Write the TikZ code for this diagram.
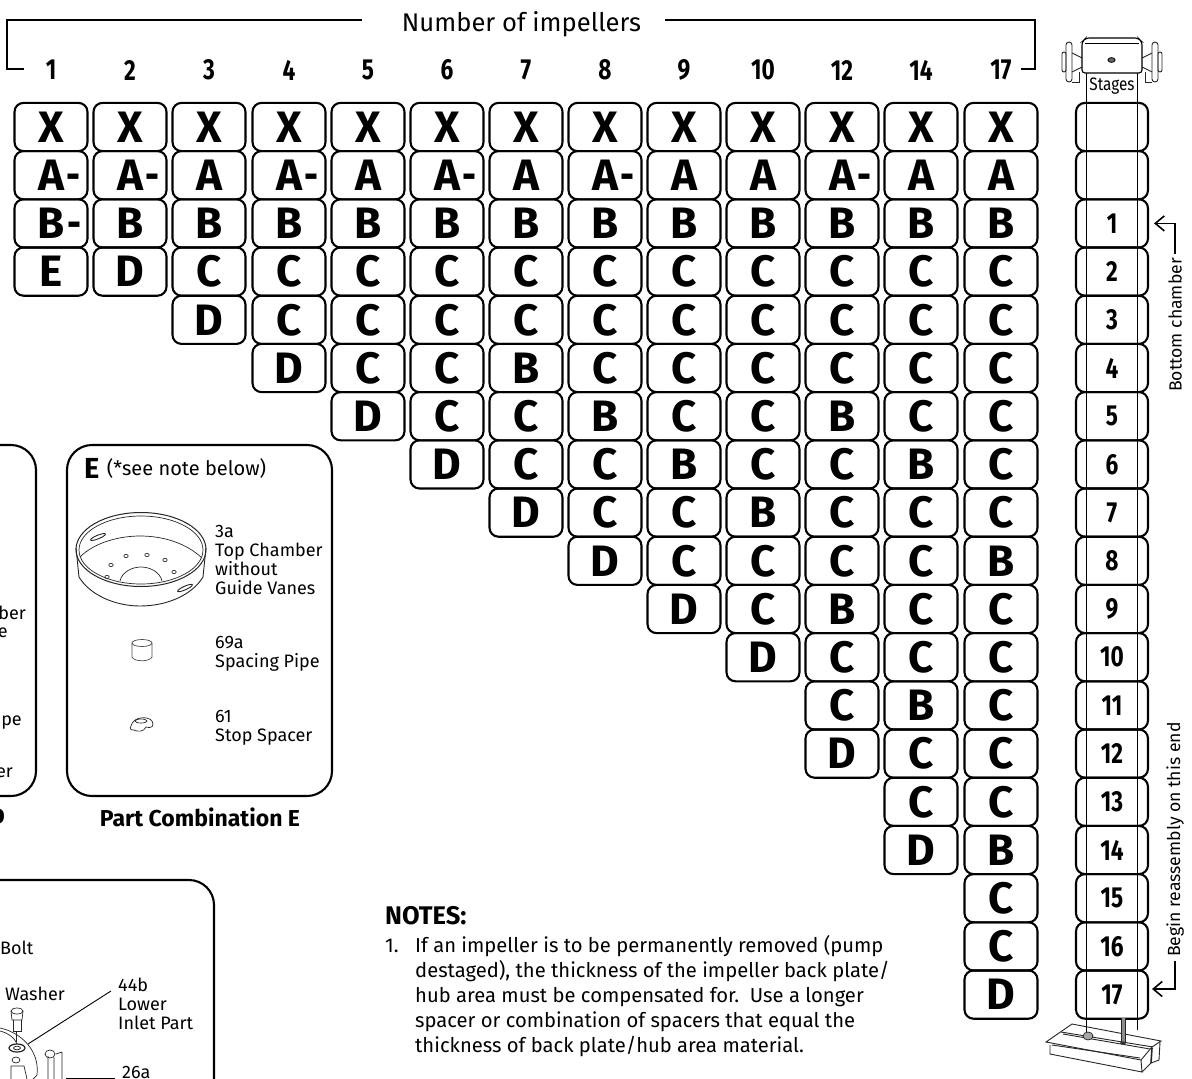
\documentclass[tikz,border=0pt]{standalone}
\usepackage{fontspec}
\setmainfont{Fira Sans}
\usetikzlibrary{arrows.meta,calc,positioning}
\newcommand{\nrw}[1]{\scalebox{.78}[1]{#1}}
\newcommand{\Am}{A\rlap{\kern2.5pt\nrw{-}}}
\newcommand{\Bm}{B\rlap{\kern2.5pt\nrw{-}}}
\newcommand{\fsz}[1]{\fontsize{#1}{#1}\selectfont}

\begin{document}
\begin{tikzpicture}[x=1pt,y=-1pt,>={Straight Barb[length=9pt,width=15pt,line width=1.6pt]},
    cell/.style={draw,line width=2.1pt,rounded corners=9pt,minimum width=73pt,minimum height=48.2pt,inner sep=0pt,font=\fsz{44}\bfseries},
    stgcell/.style={cell,minimum width=72pt,font=\fsz{29}\bfseries},
    collab/.style={font=\fsz{29}\bfseries,inner sep=0pt},
    rule/.style={line width=1.9pt},
    panel/.style={line width=2.1pt,rounded corners=25pt},
    partlab/.style={font=\fontsize{18}{18.7}\selectfont,align=left,anchor=west,inner sep=0pt},
    sidelab/.style={font=\fsz{17.6},rotate=90,anchor=west,inner sep=0pt},
    thinpart/.style={line width=.7pt,black!85},
    leader/.style={line width=.9pt}]
  \useasboundingbox (0,0) rectangle (1192,1079);
  % header with its bracket
  \node[font=\fsz{25.6},inner sep=0pt] (hdr) at (521.5,24) {Number of impellers};
  \coordinate (brLa) at (362,20);
  \coordinate (brLb) at (24,69);
  \coordinate (brRa) at (665,20);
  \coordinate (brRb) at (1021,69);
  \draw[rule] (brLa) -- (7,20) |- (brLb);
  \draw[rule] (brRa) -- (1035,20) |- (brRb);
  % one column per number of impellers
  \foreach \cx/\num/\stack in {
      51/1/{X,\Am,\Bm,E},
      130/2/{X,\Am,B,D},
      209/3/{X,A,B,C,D},
      289/4/{X,\Am,B,C,C,D},
      368/5/{X,A,B,C,C,C,D},
      447/6/{X,\Am,B,C,C,C,C,D},
      526/7/{X,A,B,C,C,B,C,C,D},
      605/8/{X,\Am,B,C,C,C,B,C,C,D},
      684/9/{X,A,B,C,C,C,C,B,C,C,D},
      763/10/{X,A,B,C,C,C,C,C,B,C,C,D},
      842/12/{X,\Am,B,C,C,C,B,C,C,C,B,C,C,D},
      921/14/{X,A,B,C,C,C,C,B,C,C,C,C,B,C,C,D},
      1001/17/{X,A,B,C,C,C,C,C,C,B,C,C,C,C,C,B,C,C,D}}{
    \node[collab] (num\num) at (\cx,70) {\nrw{\num}};
    \foreach \lett [count=\r from 0] in \stack {
      \node[cell] (c\num-\r) at (\cx,{127+48.2*\r}) {\lett};
    }
  }
  % stage column on the right
  \draw[line width=1pt] (1086,70) -- (1086,1028);
  \draw[line width=1pt] (1137,70) -- (1137,1030);
  \node[stgcell] (stgA) at (1112,127) {};
  \node[stgcell] (stgB) at (1112,175.2) {};
  \foreach \s in {1,...,17}{
    \node[stgcell] (stg\s) at (1112,{127+48.2*(\s+1)}) {\nrw{\s}};
  }
  \node[font=\fsz{18},inner sep=0pt] (stgtxt) at (1112,86) {\scalebox{.85}[1]{Stages}};
  % gauge head
  \foreach \m in {1,-1}{
    \begin{scope}[xshift=1112pt,xscale=\m,thinpart,line width=.9pt]
      \draw[rounded corners=2pt] (-50,52) rectangle (-46,72);
      \draw[rounded corners=3pt] (-46,42) rectangle (-40,82);
      \draw (-40,53) -- (-30,58) (-40,72) -- (-30,67);
      \draw (-40,82) -- (-33,82) -- (-33,72);
    \end{scope}
  }
  \draw[line width=1.1pt,rounded corners=3pt,fill=white] (1082,73) -- (1082,42) -- (1086,38) -- (1138,38) -- (1142,42) -- (1142,73) -- cycle;
  \draw[line width=.7pt] (1085,43) -- (1139,43);
  \draw[line width=.8pt,fill=black!60] (1111.5,60) ellipse (3.6 and 2.4);
  % base plate
  \begin{scope}[thinpart,line width=.9pt]
    \draw (1050,1045) -- (1050,1054) -- (1142,1072) -- (1141,1060);
    \draw (1142,1072) -- (1151,1063) -- (1159,1060) -- (1160,1042);
    \draw[line width=1.6pt] (1152,1048) -- (1151,1063);
    \draw (1046,1042) -- (1072,1024) -- (1161,1041) -- (1152,1047) -- (1141,1060) -- cycle;
    \draw (1052,1045) -- (1140,1058);
    \draw (1061,1032) -- (1153,1047) (1063,1034) -- (1150,1049);
  \end{scope}
  \draw[line width=1pt] (1086,1028) -- (1086,1032);
  \fill[black!45] (1121,1018) rectangle (1125,1043);
  \draw[thinpart] (1121,1018) -- (1121,1043) (1125,1018) -- (1125,1043);
  \fill[black!80] (1123,1043) ellipse (3 and 1.6);
  \draw[thinpart,fill=black!35] (1088,1036) ellipse (5 and 4);
  % side labels with arrows
  \node[sidelab] (botlab) at (1175,392) {Bottom chamber};
  \node[sidelab] (beglab) at (1175,957) {Begin reassembly on this end};
  \coordinate (begtip) at (1152,989);
  \draw[->,line width=1.4pt,shorten >=5pt,shorten <=4pt] (botlab.east) |- (stg1.east);
  \draw[->,line width=1.4pt,shorten <=4pt] (beglab.west) |- (begtip);
  % left hand panels
  \draw[panel] (-40,445) -- (36,445) -- (36,796) -- (-40,796);
  \draw[panel] (67,620) -- (67,445) -- (332,445) -- (332,796) -- (67,796) -- cycle;
  \node[font=\fsz{29}\bfseries,anchor=west,inner sep=0pt] (etitle) at (84,468) {E};
  \node[font=\fsz{20},anchor=west,inner sep=0pt,right=7pt of etitle] (enote) {(*see note below)};
  \node[partlab] (p3a) at (215,560) {3a\\Top Chamber\\without\\Guide Vanes};
  \node[partlab] (p69a) at (215,654) {69a\\Spacing Pipe};
  \node[partlab] (p61) at (215,728) {61\\Stop Spacer};
  \node[font=\fsz{23}\bfseries,inner sep=0pt] (ecap) at (200,817) {Part Combination E};
  \node[partlab,anchor=east] (fra) at (26,613) {ber};
  \node[partlab,anchor=east] (frb) at (8,633) {e};
  \node[partlab,anchor=east] (frc) at (22,720) {ipe};
  \node[partlab,anchor=east] (frd) at (13,773) {er};
  \node[font=\fsz{23}\bfseries,anchor=east,inner sep=0pt] (dcap) at (5,817) {D};
  % top chamber without guide vanes
  \draw[thinpart,line width=1pt] (141,549.5) ellipse (65 and 37);
  \draw[thinpart] (141,550) ellipse (62 and 34);
  \draw[thinpart,line width=.9pt] (76,548) -- (79,577) .. controls (90,595) and (115,606) .. (140,606) .. controls (167,606) and (192,595) .. (203,577) -- (206,548);
  \draw[thinpart] (80,557) .. controls (95,542) and (120,536) .. (140,536) .. controls (165,536) and (187,544) .. (202,558);
  \draw[thinpart] (120,581) .. controls (122,572) and (132,567) .. (141,567) .. controls (150,567) and (160,572) .. (162,581);
  \foreach \hx/\hy in {126/556,147/555,165/560,111/565,174/572,107/577}{
    \draw[thinpart] (\hx,\hy) ellipse (2.2 and 1.6);
  }
  \draw[thinpart,line width=.9pt,rotate around={22:(98,537)}] (98,537) ellipse (8 and 1.8);
  \draw[thinpart,line width=.9pt,rotate around={24:(185,588)}] (185,588) ellipse (8 and 1.8);
  % spacing pipe
  \draw[thinpart,black!70] (142,643) ellipse (10 and 3.5);
  \draw[thinpart,black!70] (132,643) -- (132,657) .. controls (134,662) and (150,662) .. (152,657) -- (152,643);
  % stop spacer
  \draw[thinpart] (131,726) .. controls (133,716) and (149,716) .. (152,721) .. controls (155,726) and (151,729) .. (146,727) .. controls (144,732) and (137,732) .. (134,730) .. controls (131,730) and (129,729) .. (131,726);
  \draw[thinpart] (141,721) ellipse (6 and 2);
  % lower panel
  \draw[panel] (-40,880) -- (214,880) -- (214,1110);
  \node[partlab] (bolt) at (0,948) {Bolt};
  \node[partlab] (wash) at (5,994) {Washer};
  \node[partlab] (p44b) at (118,1004) {44b\\Lower\\Inlet Part};
  \node[partlab] (p26a) at (122,1072) {26a};
  \coordinate (ldA) at (111,991);
  \coordinate (ldB) at (28,1044);
  \coordinate (ldC) at (115,1078.5);
  \coordinate (ldD) at (66,1078.5);
  \draw[leader] (ldA) -- (ldB);
  \draw[leader] (ldC) -- (ldD);
  % bolt, washer and lower inlet part
  \draw[thinpart] (17,1011) ellipse (6 and 3);
  \draw[thinpart] (11,1011) -- (12,1020) -- (22,1020) -- (23,1011);
  \draw[thinpart] (13,1020) -- (13,1031) -- (21,1031) -- (21,1020);
  \draw[thinpart] (16,1032) -- (16,1042);
  \draw[thinpart,line width=1.2pt] (17,1048) ellipse (8 and 4);
  \draw[thinpart] (17,1048) ellipse (3.5 and 1.8);
  \draw[thinpart] (0,1028) .. controls (20,1032) and (40,1050) .. (37,1075) -- (33,1079);
  \draw[thinpart] (0,1031) .. controls (8,1033) and (14,1037) .. (17,1044);
  \draw[thinpart] (16,1060) ellipse (4 and 3);
  \draw[thinpart] (11,1066) -- (11,1079) (24,1066) -- (27,1079) (11,1066) -- (24,1066);
  % bracket 26a
  \draw[thinpart] (50,1054) ellipse (5 and 4);
  \draw[thinpart] (48,1056) -- (48,1079) (54,1057) -- (54,1079) (62,1052) -- (62,1079) (56,1054) -- (62,1052);
  % notes
  \node[font=\fsz{25.5}\bfseries,anchor=west,inner sep=0pt] (nhead) at (385,916) {NOTES:};
  \node[font=\fsz{20},anchor=west,inner sep=0pt] (n1) at (385,946) {1.};
  \node[font=\fontsize{20.2}{25}\selectfont,anchor=north west,inner sep=0pt,align=left] (ntext) at (415,935) {If an impeller is to be permanently removed (pump\\
    destaged), the thickness of the impeller back plate/\\
    hub area must be compensated for.\ \ Use a longer\\
    spacer or combination of spacers that equal the\\
    thickness of back plate/hub area material.};
\end{tikzpicture}
\end{document}
